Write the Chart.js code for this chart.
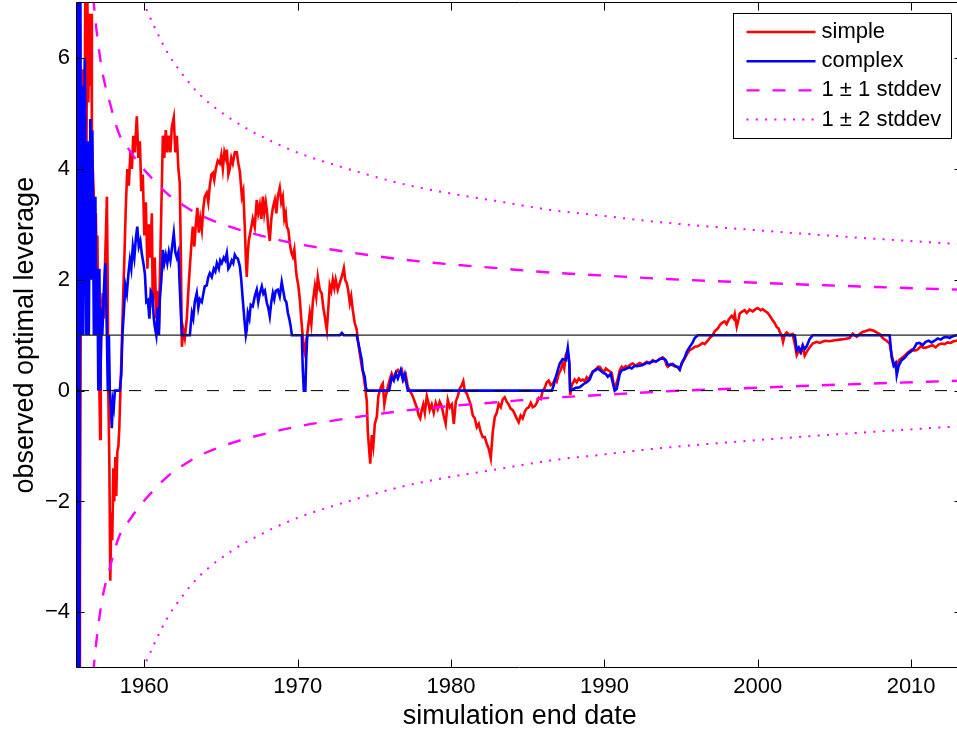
<!DOCTYPE html>
<html>
<head>
<meta charset="utf-8">
<title>observed optimal leverage</title>
<script src="https://cdn.jsdelivr.net/npm/chart.js@4.4.1/dist/chart.umd.min.js"></script>
<style>
  html, body { margin: 0; padding: 0; background: #ffffff; overflow: hidden; }
  #wrap { width: 965px; height: 731px; }
</style>
</head>
<body>
<div id="wrap"><canvas id="chart" width="965" height="731"></canvas></div>
<script>
// ---- data: [simulation end date (year), observed optimal leverage] ----
const simpleSeries = [
  [1955.63,-6],[1955.76,-6],[1955.80,-3.5],[1955.85,1.0],[1955.89,4.2],[1955.96,2.0],[1956.02,5.8],[1956.09,3.5],[1956.15,7.3],[1956.22,4.0],
  [1956.28,7.3],[1956.35,5.2],[1956.41,6.8],[1956.48,5.5],[1956.55,6.8],[1956.58,4.5],[1956.64,4.0],[1956.71,3.5],[1956.77,2.5],[1956.84,3.2],
  [1956.90,2.0],[1956.94,2.8],[1957.00,1.0],[1957.07,0.0],[1957.12,-0.87],[1957.16,0.5],[1957.23,1.5],[1957.29,1.76],[1957.36,1.3],[1957.43,2.2],
  [1957.49,2.8],[1957.56,3.5],[1957.61,2.0],[1957.65,0.0],[1957.72,-1.3],[1957.78,-3.43],[1957.85,-2.2],[1957.91,-2.7],[1957.98,-1.4],[1958.04,-2.0],
  [1958.11,-1.2],[1958.17,-1.9],[1958.24,-1.1],[1958.31,-1.0],[1958.37,-0.66],[1958.44,0.0],[1958.50,0.5],[1958.57,1.2],[1958.63,1.8],[1958.70,2.4],
  [1958.79,3.3],[1958.89,4.0],[1958.99,3.7],[1959.09,4.3],[1959.19,4.0],[1959.28,4.6],[1959.38,4.3],[1959.51,4.95],[1959.61,4.2],[1959.71,4.5],
  [1959.80,3.6],[1959.90,3.9],[1960.00,2.8],[1960.10,3.4],[1960.20,2.2],[1960.29,3.0],[1960.39,2.4],[1960.49,3.2],[1960.55,1.5],[1960.68,2.4],
  [1960.78,1.3],[1960.88,1.8],[1960.95,1.1],[1961.01,2.0],[1961.11,3.3],[1961.21,4.6],[1961.30,4.2],[1961.40,4.7],[1961.50,4.3],[1961.60,4.6],
  [1961.70,4.3],[1961.79,4.75],[1961.92,4.93],[1962.02,4.3],[1962.12,4.6],[1962.22,4.0],[1962.31,3.75],[1962.38,2.5],[1962.45,0.79],[1962.54,1.1],
  [1962.64,0.95],[1962.77,1.3],[1962.87,1.8],[1962.97,2.24],[1963.06,2.6],[1963.16,2.96],[1963.26,2.6],[1963.36,3.0],[1963.46,3.3],[1963.55,2.85],
  [1963.65,3.1],[1963.75,2.9],[1963.85,3.3],[1963.94,3.5],[1964.07,3.57],[1964.17,3.4],[1964.27,3.7],[1964.37,3.9],[1964.47,3.93],[1964.56,3.8],
  [1964.66,4.0],[1964.79,4.15],[1964.92,4.1],[1965.02,4.25],[1965.12,4.0],[1965.22,4.3],[1965.31,4.2],[1965.38,4.35],[1965.48,3.9],[1965.57,4.0],
  [1965.67,4.2],[1965.77,4.1],[1965.90,4.3],[1966.03,4.3],[1966.13,4.1],[1966.23,3.95],[1966.36,3.5],[1966.45,3.6],[1966.55,2.96],[1966.62,2.4],
  [1966.68,2.05],[1966.75,2.5],[1966.81,2.7],[1966.94,2.9],[1967.07,3.1],[1967.20,2.95],[1967.33,3.44],[1967.43,3.2],[1967.53,3.35],[1967.63,3.1],
  [1967.73,3.5],[1967.82,3.2],[1967.92,3.4],[1967.99,3.25],[1968.08,2.95],[1968.18,2.7],[1968.28,3.1],[1968.38,3.3],[1968.51,3.44],[1968.61,3.2],
  [1968.70,3.5],[1968.83,3.66],[1968.93,3.4],[1969.03,3.5],[1969.13,3.1],[1969.22,3.2],[1969.29,2.96],[1969.39,2.9],[1969.49,2.66],[1969.58,2.5],
  [1969.68,2.42],[1969.78,2.55],[1969.88,2.2],[1969.94,2.05],[1970.04,1.9],[1970.14,1.64],[1970.23,1.3],[1970.33,0.98],[1970.40,0.75],[1970.46,0.68],
  [1970.56,0.9],[1970.66,1.1],[1970.79,1.4],[1970.89,1.2],[1970.99,1.6],[1971.12,1.88],[1971.21,1.7],[1971.31,2.05],[1971.44,1.82],[1971.57,1.75],
  [1971.67,1.5],[1971.77,1.33],[1971.90,1.09],[1972.00,1.5],[1972.09,1.9],[1972.19,1.8],[1972.29,2.0],[1972.39,1.85],[1972.48,2.0],[1972.61,1.82],
  [1972.75,1.95],[1972.88,2.06],[1973.01,2.21],[1973.10,2.0],[1973.20,1.94],[1973.30,1.8],[1973.40,1.58],[1973.49,1.7],[1973.59,1.46],[1973.72,1.22],
  [1973.85,1.1],[1973.92,0.91],[1974.05,0.67],[1974.18,0.43],[1974.28,0.3],[1974.37,0.13],[1974.51,-0.2],[1974.57,-0.72],[1974.64,-1.0],[1974.73,-1.32],
  [1974.83,-0.8],[1974.93,-1.0],[1975.03,-0.6],[1975.16,-0.47],[1975.26,-0.1],[1975.35,0.0],[1975.48,0.1],[1975.55,0.13],[1975.65,-0.25],[1975.74,-0.1],
  [1975.87,0.05],[1976.00,0.2],[1976.13,0.31],[1976.27,0.22],[1976.40,0.33],[1976.53,0.37],[1976.66,0.3],[1976.79,0.37],[1976.92,0.2],[1977.05,0.28],
  [1977.18,0.07],[1977.31,0.0],[1977.41,-0.05],[1977.50,-0.1],[1977.63,-0.2],[1977.76,-0.3],[1977.89,-0.45],[1977.99,-0.5],[1978.09,-0.35],[1978.19,-0.25],
  [1978.29,-0.4],[1978.42,-0.1],[1978.51,-0.2],[1978.61,-0.35],[1978.74,-0.25],[1978.87,-0.4],[1979.00,-0.22],[1979.13,-0.33],[1979.26,-0.2],[1979.39,-0.28],
  [1979.52,-0.45],[1979.65,-0.6],[1979.79,-0.17],[1979.92,-0.3],[1980.05,-0.25],[1980.18,-0.6],[1980.31,-0.2],[1980.44,-0.1],[1980.57,0.04],[1980.70,0.1],
  [1980.80,0.17],[1980.89,0.0],[1981.02,-0.05],[1981.15,-0.15],[1981.28,-0.25],[1981.42,-0.45],[1981.55,-0.5],[1981.68,-0.66],[1981.81,-0.6],[1981.94,-0.75],
  [1982.07,-0.84],[1982.20,-0.84],[1982.33,-0.96],[1982.46,-1.05],[1982.59,-1.22],[1982.72,-0.75],[1982.85,-0.48],[1982.98,-0.4],[1983.11,-0.24],[1983.24,-0.3],
  [1983.37,-0.16],[1983.50,-0.12],[1983.63,-0.2],[1983.76,-0.25],[1983.89,-0.33],[1984.02,-0.35],[1984.15,-0.42],[1984.28,-0.5],[1984.41,-0.57],[1984.54,-0.45],
  [1984.67,-0.5],[1984.81,-0.38],[1984.94,-0.32],[1985.07,-0.3],[1985.20,-0.22],[1985.33,-0.3],[1985.46,-0.28],[1985.59,-0.22],[1985.72,-0.13],[1985.85,-0.15],
  [1985.98,0.0],[1986.11,0.05],[1986.24,0.15],[1986.37,0.18],[1986.50,0.1],[1986.63,0.12],[1986.76,0.2],[1986.89,0.16],[1987.02,0.3],[1987.15,0.37],
  [1987.28,0.49],[1987.38,0.4],[1987.48,0.64],[1987.61,0.72],[1987.71,0.5],[1987.77,-0.08],[1987.87,0.1],[1987.97,0.15],[1988.06,0.2],[1988.19,0.15],
  [1988.33,0.22],[1988.46,0.18],[1988.59,0.2],[1988.72,0.17],[1988.85,0.24],[1988.98,0.2],[1989.11,0.28],[1989.24,0.34],[1989.37,0.37],[1989.50,0.4],
  [1989.60,0.43],[1989.69,0.43],[1989.82,0.38],[1989.96,0.33],[1990.09,0.4],[1990.22,0.37],[1990.35,0.35],[1990.48,0.32],[1990.58,0.15],[1990.67,0.06],
  [1990.77,0.12],[1990.87,0.2],[1991.00,0.37],[1991.13,0.43],[1991.26,0.4],[1991.39,0.44],[1991.52,0.42],[1991.65,0.46],[1991.85,0.49],[1992.04,0.45],
  [1992.30,0.5],[1992.50,0.47],[1992.76,0.52],[1992.95,0.49],[1993.15,0.55],[1993.35,0.52],[1993.61,0.57],[1993.80,0.6],[1993.93,0.57],[1994.06,0.46],
  [1994.13,0.43],[1994.32,0.48],[1994.58,0.44],[1994.78,0.42],[1994.91,0.38],[1995.04,0.48],[1995.24,0.58],[1995.43,0.68],[1995.56,0.73],[1995.76,0.76],
  [1995.89,0.79],[1996.09,0.8],[1996.21,0.82],[1996.41,0.86],[1996.54,0.84],[1996.74,0.9],[1996.87,0.95],[1997.06,1.0],[1997.19,1.07],[1997.39,1.12],
  [1997.52,1.18],[1997.65,1.22],[1997.84,1.25],[1997.97,1.2],[1998.10,1.28],[1998.30,1.35],[1998.43,1.3],[1998.50,1.38],[1998.63,1.15],[1998.76,1.3],
  [1998.82,1.39],[1998.95,1.42],[1999.15,1.45],[1999.28,1.4],[1999.47,1.46],[1999.67,1.43],[1999.86,1.47],[1999.99,1.49],[2000.19,1.45],[2000.32,1.47],
  [2000.45,1.44],[2000.65,1.4],[2000.78,1.35],[2000.97,1.27],[2001.10,1.22],[2001.23,1.15],[2001.36,1.12],[2001.43,1.06],[2001.56,1.0],[2001.65,0.88],
  [2001.75,1.0],[2001.88,1.05],[2002.08,1.0],[2002.27,1.02],[2002.41,0.85],[2002.54,0.64],[2002.67,0.72],[2002.80,0.68],[2002.93,0.8],[2003.06,0.63],
  [2003.19,0.7],[2003.38,0.78],[2003.58,0.85],[2003.84,0.88],[2004.04,0.86],[2004.36,0.9],[2004.69,0.89],[2005.02,0.91],[2005.34,0.92],[2005.67,0.93],
  [2005.99,0.95],[2006.19,1.03],[2006.45,0.97],[2006.64,1.02],[2006.84,1.06],[2007.10,1.08],[2007.30,1.1],[2007.56,1.08],[2007.75,1.05],[2007.95,1.02],
  [2008.14,0.95],[2008.40,0.9],[2008.60,0.85],[2008.73,0.64],[2008.86,0.5],[2008.99,0.42],[2009.12,0.5],[2009.25,0.56],[2009.45,0.6],[2009.64,0.65],
  [2009.84,0.7],[2010.03,0.74],[2010.23,0.72],[2010.42,0.74],[2010.62,0.8],[2010.82,0.77],[2011.01,0.78],[2011.21,0.8],[2011.40,0.82],[2011.60,0.78],
  [2011.79,0.83],[2011.99,0.85],[2012.19,0.84],[2012.38,0.87],[2012.58,0.86],[2012.77,0.89],[2012.97,0.9],[2013.30,0.91]
];

const complexSeries = [
  [1955.60,7.5],[1955.63,-6],[1955.70,7.5],[1955.76,-6],[1955.83,7.5],[1955.89,1.0],[1955.96,5.5],[1956.02,1.0],[1956.12,6.0],[1956.22,1.0],
  [1956.32,4.5],[1956.38,1.0],[1956.48,4.9],[1956.55,2.0],[1956.61,4.7],[1956.71,1.0],[1956.81,3.5],[1956.87,1.0],[1956.94,2.2],[1957.00,0.0],
  [1957.07,2.2],[1957.13,0.0],[1957.20,1.5],[1957.26,1.0],[1957.36,1.8],[1957.46,2.3],[1957.56,1.0],[1957.62,0.0],[1957.69,1.0],[1957.75,0.0],
  [1957.82,-0.35],[1957.88,-0.68],[1957.95,-0.2],[1958.01,-0.3],[1958.08,0.0],[1958.40,0.0],[1958.50,0.3],[1958.57,1.0],[1958.66,1.4],[1958.76,1.9],
  [1958.86,1.75],[1958.96,2.1],[1959.06,2.36],[1959.15,2.2],[1959.25,2.6],[1959.35,2.4],[1959.45,2.75],[1959.54,2.96],[1959.64,2.6],[1959.74,2.7],
  [1959.84,2.46],[1959.94,2.3],[1960.04,2.1],[1960.13,1.6],[1960.23,1.63],[1960.33,1.3],[1960.42,1.8],[1960.52,1.75],[1960.62,1.3],[1960.68,1.16],
  [1960.78,1.0],[1960.88,1.5],[1960.95,1.0],[1961.01,1.64],[1961.11,2.0],[1961.21,2.54],[1961.30,2.3],[1961.40,2.45],[1961.50,2.3],[1961.60,2.5],
  [1961.70,2.35],[1961.79,2.55],[1961.92,2.84],[1962.02,2.5],[1962.12,2.4],[1962.22,2.5],[1962.31,1.88],[1962.38,1.4],[1962.45,1.0],[1962.97,1.0],
  [1963.03,1.2],[1963.10,1.4],[1963.19,1.3],[1963.29,1.6],[1963.42,1.76],[1963.52,1.5],[1963.62,1.65],[1963.75,1.6],[1963.85,1.75],[1963.94,1.88],
  [1964.07,1.9],[1964.17,2.05],[1964.27,2.12],[1964.40,2.05],[1964.53,2.2],[1964.63,2.15],[1964.73,2.3],[1964.86,2.2],[1964.95,2.35],[1965.05,2.3],
  [1965.18,2.4],[1965.28,2.35],[1965.38,2.48],[1965.48,2.2],[1965.57,2.24],[1965.70,2.35],[1965.80,2.3],[1965.90,2.45],[1966.00,2.4],[1966.10,2.38],
  [1966.23,2.24],[1966.32,2.0],[1966.42,1.64],[1966.52,1.3],[1966.62,1.0],[1966.68,1.1],[1966.75,1.4],[1966.85,1.3],[1966.94,1.55],[1967.07,1.52],
  [1967.20,1.7],[1967.33,1.82],[1967.43,1.6],[1967.53,1.75],[1967.66,1.88],[1967.76,1.75],[1967.86,1.8],[1967.99,1.58],[1968.08,1.5],[1968.18,1.34],
  [1968.28,1.6],[1968.38,1.76],[1968.47,1.65],[1968.57,1.8],[1968.70,1.82],[1968.83,1.7],[1968.96,1.96],[1969.06,1.8],[1969.16,1.64],[1969.26,1.6],
  [1969.36,1.4],[1969.45,1.3],[1969.55,1.15],[1969.62,1.0],[1970.27,1.0],[1970.33,0.4],[1970.40,0.0],[1970.50,0.0],[1970.56,0.6],[1970.63,1.0],
  [1972.75,1.0],[1972.88,1.04],[1973.01,1.0],[1973.85,1.0],[1973.92,0.91],[1974.05,0.73],[1974.18,0.55],[1974.24,0.37],[1974.37,0.25],[1974.44,0.07],
  [1974.51,0.0],[1975.94,0.0],[1976.00,0.05],[1976.13,0.25],[1976.27,0.18],[1976.40,0.31],[1976.53,0.22],[1976.72,0.37],[1976.85,0.2],[1976.98,0.3],
  [1977.11,0.1],[1977.18,0.0],[1986.57,0.0],[1986.70,0.1],[1986.76,0.18],[1986.89,0.3],[1987.09,0.49],[1987.28,0.57],[1987.48,0.55],[1987.61,0.77],
  [1987.71,0.5],[1987.77,0.0],[1987.93,0.02],[1988.13,0.05],[1988.39,0.06],[1988.65,0.12],[1988.85,0.15],[1989.04,0.2],[1989.24,0.34],[1989.43,0.37],
  [1989.56,0.4],[1989.76,0.36],[1989.89,0.33],[1990.09,0.3],[1990.22,0.25],[1990.41,0.3],[1990.54,0.15],[1990.67,0.0],[1990.80,0.03],[1991.00,0.3],
  [1991.13,0.37],[1991.32,0.38],[1991.45,0.4],[1991.65,0.42],[1991.78,0.4],[1991.98,0.45],[1992.11,0.44],[1992.30,0.45],[1992.50,0.46],[1992.76,0.5],
  [1992.95,0.5],[1993.15,0.53],[1993.41,0.53],[1993.61,0.57],[1993.80,0.58],[1994.00,0.55],[1994.13,0.47],[1994.26,0.46],[1994.45,0.48],[1994.65,0.44],
  [1994.78,0.43],[1994.91,0.38],[1995.04,0.5],[1995.24,0.6],[1995.37,0.7],[1995.56,0.79],[1995.76,0.87],[1995.89,0.95],[1996.09,1.0],[2002.41,1.0],
  [2002.54,0.73],[2002.67,0.78],[2002.80,0.7],[2002.93,0.82],[2003.06,0.75],[2003.19,0.8],[2003.38,0.93],[2003.58,1.0],[2008.60,1.0],[2008.73,0.6],
  [2008.86,0.45],[2008.99,0.5],[2009.06,0.28],[2009.19,0.45],[2009.38,0.55],[2009.58,0.59],[2009.77,0.66],[2009.97,0.7],[2010.16,0.75],[2010.36,0.85],
  [2010.55,0.86],[2010.75,0.82],[2010.95,0.88],[2011.14,0.9],[2011.34,0.87],[2011.53,0.9],[2011.73,0.94],[2011.93,0.92],[2012.12,0.96],[2012.32,0.97],
  [2012.51,0.95],[2012.71,0.98],[2012.97,1.0],[2013.30,1.0]
];

// standard deviation of the leverage estimate against simulation end date
const stddevSeries = [
  [1956.30,7.5],[1956.70,6.0],[1957.20,4.85],[1957.75,4.2],[1958.33,3.65],[1959.05,3.33],[1959.51,3.15],[1960.20,2.92],
  [1961.47,2.56],[1962.51,2.35],[1963.62,2.17],[1965.77,1.94],[1967.99,1.77],[1970.14,1.64],[1972.09,1.55],[1976.70,1.37],
  [1979.90,1.28],[1983.00,1.21],[1986.50,1.13],[1989.70,1.08],[1993.60,1.02],[2000.60,0.94],[2006.60,0.88],[2013.35,0.82]
];

const bandMultipliers = [1, 2];            // 1 ± k stddev
const unitLevel = 1;                       // solid reference line
const zeroLevel = 0;                       // dashed reference line
const xTicks = [1960, 1970, 1980, 1990, 2000, 2010];
const yTicks = [-4, -2, 0, 2, 4, 6];
const xRange = [1955.61, 2013.35];
const yRange = [-5, 7];
const legendLabels = ['simple', 'complex', '1 \u00b1 1 stddev', '1 \u00b1 2 stddev'];

// ---- styling ----
const FONT = "'Liberation Sans', Arial, Helvetica, sans-serif";
const RED = '#ff0000', BLUE = '#0000ff', MAGENTA = '#ff00ff';
const DASH = [13, 13], DOT = [2, 7.3];

const toPoints = s => s.map(([x, y]) => ({ x, y }));
const band = k => stddevSeries.map(([x, s]) => ({ x, y: 1 + k * s }));
const level = v => xRange.map(x => ({ x, y: v }));

const datasets = [
  { label: 'zero', data: level(zeroLevel), borderColor: '#000', borderWidth: 1, borderDash: [12, 14], order: 0 },
  { label: 'unit', data: level(unitLevel), borderColor: '#222', borderWidth: 1.2, order: 0 },
  { label: legendLabels[2], data: band(bandMultipliers[0]), borderColor: MAGENTA, borderWidth: 2.4, borderDash: DASH, cubicInterpolationMode: 'monotone', order: 1 },
  { label: legendLabels[2] + ' low', data: band(-bandMultipliers[0]), borderColor: MAGENTA, borderWidth: 2.4, borderDash: DASH, cubicInterpolationMode: 'monotone', order: 1 },
  { label: legendLabels[3], data: band(bandMultipliers[1]), borderColor: MAGENTA, borderWidth: 2, borderDash: DOT, cubicInterpolationMode: 'monotone', order: 1 },
  { label: legendLabels[3] + ' low', data: band(-bandMultipliers[1]), borderColor: MAGENTA, borderWidth: 2, borderDash: DOT, cubicInterpolationMode: 'monotone', order: 1 },
  { label: legendLabels[1], data: toPoints(complexSeries), borderColor: BLUE, borderWidth: 2.6, order: 2 },
  { label: legendLabels[0], data: toPoints(simpleSeries), borderColor: RED, borderWidth: 2.6, order: 3 }
];
datasets.forEach(d => { d.pointRadius = 0; d.fill = false; d.clip = 0; if (!d.cubicInterpolationMode) d.tension = 0; });

// box around the axes with inward tick marks on all four sides
const axesFrame = {
  id: 'axesFrame',
  afterDatasetsDraw(chart) {
    const { ctx, chartArea: a, scales: { x, y } } = chart;
    const L = Math.floor(a.left) - 0.5, R = Math.floor(a.right) + 0.5;
    const T = Math.floor(a.top) + 0.5, B = Math.floor(a.bottom) + 0.5;
    const len = 8;
    ctx.save();
    ctx.strokeStyle = '#000';
    ctx.lineWidth = 1;
    ctx.setLineDash([]);
    ctx.beginPath();
    ctx.rect(L, T, R - L, B - T);
    xTicks.forEach(v => {
      const px = Math.round(x.getPixelForValue(v)) + 0.5;
      ctx.moveTo(px, B); ctx.lineTo(px, B - len);
      ctx.moveTo(px, T); ctx.lineTo(px, T + len);
    });
    yTicks.forEach(v => {
      const py = Math.round(y.getPixelForValue(v)) + 0.5;
      ctx.moveTo(L, py); ctx.lineTo(L + len, py);
      ctx.moveTo(R, py); ctx.lineTo(R - len, py);
    });
    ctx.stroke();
    ctx.restore();
  }
};

// boxed legend in the upper right corner of the axes
const insetLegend = {
  id: 'insetLegend',
  afterDraw(chart) {
    const { ctx, chartArea: a } = chart;
    const styles = [
      { color: RED, width: 2.6, dash: [] },
      { color: BLUE, width: 2.6, dash: [] },
      { color: MAGENTA, width: 2.4, dash: DASH },
      { color: MAGENTA, width: 2, dash: DOT }
    ];
    const boxR = Math.floor(a.right) - 11 + 0.5, boxT = Math.floor(a.top) + 11 + 0.5;
    const boxW = 218, boxH = 125;
    const boxL = boxR - boxW;
    ctx.save();
    ctx.fillStyle = '#fff';
    ctx.fillRect(boxL, boxT, boxW, boxH);
    ctx.strokeStyle = '#000';
    ctx.lineWidth = 1;
    ctx.setLineDash([]);
    ctx.strokeRect(boxL, boxT, boxW, boxH);
    ctx.font = '22px ' + FONT;
    ctx.textBaseline = 'middle';
    ctx.textAlign = 'left';
    legendLabels.forEach((t, i) => {
      const cy = boxT + 18.5 + i * 29.2;
      const s = styles[i];
      ctx.strokeStyle = s.color;
      ctx.lineWidth = s.width;
      ctx.setLineDash(s.dash);
      ctx.beginPath();
      ctx.moveTo(boxL + 13, cy);
      ctx.lineTo(boxL + 82, cy);
      ctx.stroke();
      ctx.setLineDash([]);
      ctx.fillStyle = '#000';
      ctx.fillText(t, boxL + 88, cy);
    });
    ctx.restore();
  }
};

new Chart(document.getElementById('chart'), {
  type: 'line',
  data: { datasets },
  options: {
    responsive: false,
    animation: false,
    devicePixelRatio: 1,
    events: [],
    layout: { padding: { top: 2.7, right: 2.5, bottom: 0, left: 0 } },
    plugins: { legend: { display: false }, tooltip: { enabled: false } },
    scales: {
      x: {
        type: 'linear',
        min: xRange[0], max: xRange[1],
        grid: { display: false, drawTicks: false },
        border: { display: false },
        afterBuildTicks: s => { s.ticks = xTicks.map(v => ({ value: v })); },
        afterFit: s => { s.height = 63.3; s.paddingLeft = 0; s.paddingRight = 0; },
        ticks: { color: '#000', font: { family: FONT, size: 22 }, padding: 6.4, maxRotation: 0, autoSkip: false, callback: v => String(v) },
        title: { display: true, text: 'simulation end date', color: '#000', font: { family: FONT, size: 27, lineHeight: 1 }, padding: { top: 0, bottom: 1 } }
      },
      y: {
        type: 'linear',
        min: yRange[0], max: yRange[1],
        grid: { display: false, drawTicks: false },
        border: { display: false },
        afterBuildTicks: s => { s.ticks = yTicks.map(v => ({ value: v })); },
        afterFit: s => { s.width = 77; s.paddingTop = 0; s.paddingBottom = 0; },
        ticks: { color: '#000', font: { family: FONT, size: 22 }, padding: 7, autoSkip: false, callback: v => (v < 0 ? '\u2212' + Math.abs(v) : String(v)) },
        title: { display: true, text: 'observed optimal leverage', color: '#000', font: { family: FONT, size: 27, lineHeight: 1 }, padding: { top: 12.5, bottom: 0 } }
      }
    }
  },
  plugins: [axesFrame, insetLegend]
});
</script>
</body>
</html>
